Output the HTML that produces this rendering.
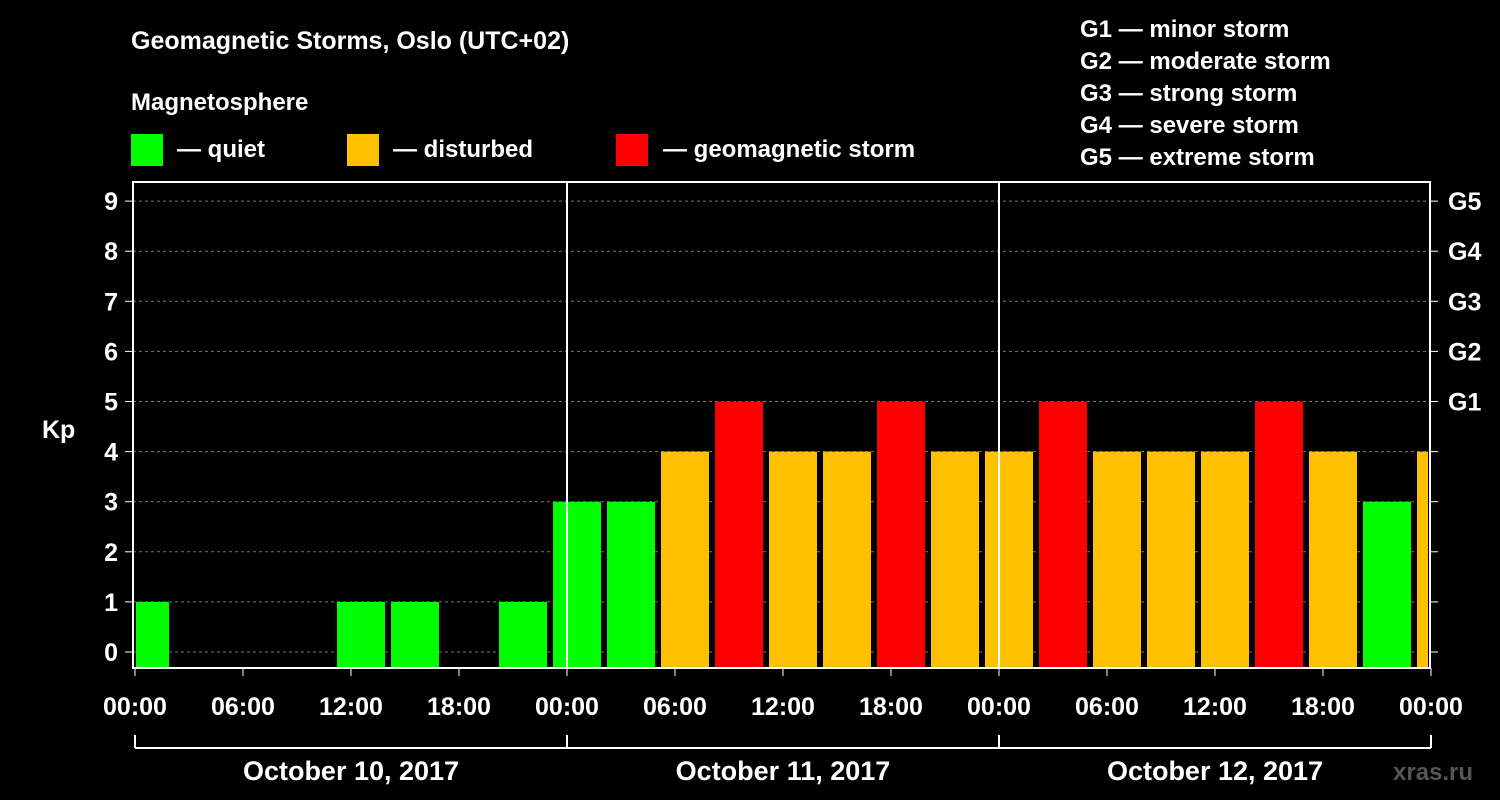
<!DOCTYPE html>
<html><head><meta charset="utf-8"><style>
body{margin:0;background:#000;}
svg{display:block;font-family:"Liberation Sans",Arial,sans-serif;font-weight:bold;}
</style></head><body>
<svg id="c" width="1500" height="800" viewBox="0 0 1500 800">
<rect width="1500" height="800" fill="#000"/>
<text x="131" y="49" fill="#fff" font-size="25">Geomagnetic Storms, Oslo (UTC+02)</text>
<text x="131" y="110" fill="#fff" font-size="24">Magnetosphere</text>
<g><rect x="131" y="134" width="32" height="32" fill="#00ff00"/><text x="177" y="157" fill="#fff" font-size="24">— quiet</text></g>
<g><rect x="347" y="134" width="32" height="32" fill="#ffc000"/><text x="393" y="157" fill="#fff" font-size="24">— disturbed</text></g>
<g><rect x="616" y="134" width="32" height="32" fill="#ff0000"/><text x="663" y="157" fill="#fff" font-size="24">— geomagnetic storm</text></g>
<g fill="#fff" font-size="24">
<text x="1080" y="37">G1 — minor storm</text><text x="1080" y="69">G2 — moderate storm</text><text x="1080" y="101">G3 — strong storm</text><text x="1080" y="133">G4 — severe storm</text><text x="1080" y="165">G5 — extreme storm</text></g>
<text x="42" y="438" fill="#fff" font-size="25">Kp</text>
<text x="1393" y="780" fill="#555" font-size="24">xras.ru</text>
<g id="grid"></g><g id="bars"></g><g id="axes"></g>
</svg>
<script>
const kpValues=[1,0,0,0,1,1,0,1, 3,3,4,5,4,4,5,4, 4,5,4,4,4,5,4,3, 4];
const kpTicks=[0,1,2,3,4,5,6,7,8,9];
const gLabels=["","","","","","G1","G2","G3","G4","G5"];
const timeLabels=["00:00","06:00","12:00","18:00","00:00","06:00","12:00","18:00","00:00","06:00","12:00","18:00","00:00"];
const dayLabels=["October 10, 2017","October 11, 2017","October 12, 2017"];
const NS="http://www.w3.org/2000/svg";
const L=133,R=1430,T=182,B=668,X0=135,DAY=432;
const y=v=>652-50.1*v;
const xh=h=>X0+h*DAY/24;
function mk(p,t,a){const e=document.createElementNS(NS,t);for(const k in a)e.setAttribute(k,a[k]);p.appendChild(e);return e;}
const grid=document.getElementById('grid'),bars=document.getElementById('bars'),axes=document.getElementById('axes');
kpTicks.forEach(v=>{
 const g=mk(grid,'line',{x1:L,x2:R,y1:y(v),y2:y(v),stroke:'#777','stroke-dasharray':'3,3'});
 
 
 const t=mk(axes,'text',{x:118,y:y(v)+9,fill:'#fff','font-size':25,'text-anchor':'end'});t.textContent=v;
 
 
 mk(axes,'line',{x1:L-8,x2:L,y1:y(v),y2:y(v),stroke:'#fff'});
 mk(axes,'line',{x1:R,x2:R+8,y1:y(v),y2:y(v),stroke:'#fff'});
 if(gLabels[v]){const g2=mk(axes,'text',{x:1448,y:y(v)+9,fill:'#fff','font-size':25});g2.textContent=gLabels[v];
 
 }
});
kpValues.forEach((v,i)=>{
 if(v<=0)return;
 let x1=Math.max(xh(i*3)-14,L+3),x2=Math.min(xh(i*3)+34,R-2);
 const c=v>=5?'#ff0000':v>=4?'#ffc000':'#00ff00';
 const r=mk(bars,'rect',{x:x1,y:y(v),width:x2-x1,height:B-y(v),fill:c});
 
 
});
mk(axes,'rect',{x:L,y:T,width:R-L,height:B-T,fill:'none',stroke:'#fff','stroke-width':2});
[1,2].forEach(d=>mk(axes,'line',{x1:X0+d*DAY,x2:X0+d*DAY,y1:T,y2:B,stroke:'#fff','stroke-width':2}));
timeLabels.forEach((s,i)=>{
 const x=xh(i*6);
 mk(axes,'line',{x1:x,x2:x,y1:B,y2:B+8,stroke:'#fff'});
 const t=mk(axes,'text',{x:x,y:715,fill:'#fff','font-size':25,'text-anchor':'middle'});t.textContent=s;
 
 
});
mk(axes,'line',{x1:X0,x2:X0+3*DAY,y1:748,y2:748,stroke:'#fff','stroke-width':2});
for(let d=0;d<=3;d++)mk(axes,'line',{x1:X0+d*DAY,x2:X0+d*DAY,y1:735,y2:748,stroke:'#fff','stroke-width':2});
dayLabels.forEach((s,d)=>{
 const t=mk(axes,'text',{x:X0+d*DAY+DAY/2,y:780,fill:'#fff','font-size':27,'text-anchor':'middle'});t.textContent=s;
 
 
});
</script>
</body></html>
